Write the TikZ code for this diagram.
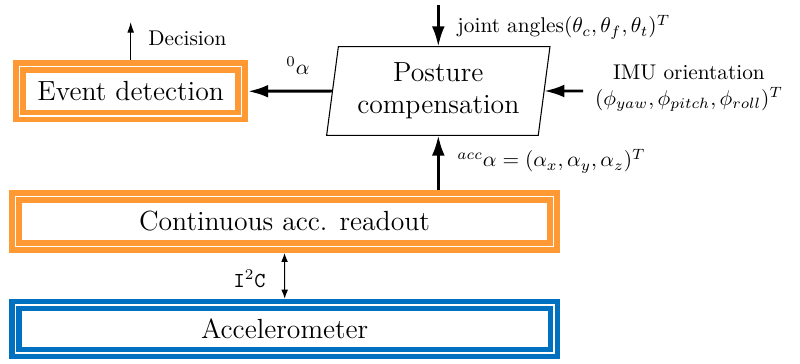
\documentclass[tikz,border=0pt]{standalone}
\usetikzlibrary{arrows.meta,shapes.geometric}
\definecolor{boxorange}{HTML}{FF9933}
\definecolor{boxblue}{HTML}{0070C0}
\begin{document}
\begin{tikzpicture}[x=0.4695pt,y=-0.4695pt,
  dbox/.style={draw=#1, line width=2.6pt, double=white, double distance=0.7pt,
    inner sep=0pt, outer sep=2.95pt, font=\fontsize{13}{15.5}\selectfont},
  para/.style={draw=black, line width=0.5pt, trapezium, trapezium stretches=true,
    trapezium left angle=80.4, trapezium right angle=99.6,
    minimum width=105.5pt, minimum height=41.6pt, inner sep=0pt, outer sep=0pt,
    align=center, font=\fontsize{13}{15}\selectfont},
  lbl/.style={inner sep=0pt, font=\fontsize{10}{12}\selectfont},
  bigarrow/.style={line width=1.4pt, -{Latex[length=9.5pt,width=6pt]}},
  smallarrow/.style={line width=0.5pt, -{Latex[length=5pt,width=3.2pt]}},
  bothsmall/.style={line width=0.5pt, {Latex[length=4.2pt,width=3.2pt]}-{Latex[length=4.2pt,width=3.2pt]}}]
\useasboundingbox (0,0) rectangle (800,363);

\node[dbox=boxorange, minimum width=104.2pt, minimum height=23.1pt] (ed) at (130.7,91.3) {Event detection};
\node[para] (pc) at (438.3,91) {Posture\\compensation};
\node[dbox=boxorange, minimum width=252.8pt, minimum height=23.7pt] (cr) at (284.5,221.5) {Continuous acc. readout};
\node[dbox=boxblue, minimum width=252.8pt, minimum height=22.6pt] (acc) at (284.7,329) {Accelerometer};

\coordinate (decend) at (130.7,22);
\coordinate (jstart) at (438.3,5);
\coordinate (imustart) at (583,91);

\node[lbl, anchor=west] (declbl) at (148,38) {Decision};
\node[lbl] (zlbl) at (298,66) {$^0\alpha$};
\node[lbl, anchor=west] (jlbl) at (457,27) {joint angles$(\theta_c,\theta_f,\theta_t)^T$};
\node[lbl, align=center] (imulbl) at (689,88) {IMU orientation\\$(\phi_{yaw},\phi_{pitch},\phi_{roll})^T$};
\node[lbl, anchor=west] (acclbl) at (457,161) {$^{acc}\alpha=(\alpha_x,\alpha_y,\alpha_z)^T$};
\node[lbl, anchor=east] (i2c) at (266,279) {\texttt{I$^2$C}};

\draw[bigarrow] (pc.west) -- (ed.east);
\draw[smallarrow] (ed.north) -- (decend);
\draw[bigarrow] (jstart) -- (pc.center |- pc.north);
\draw[bigarrow] (imustart) -- (pc.east);
\draw[bigarrow] (pc.center |- cr.north) -- (pc.center |- pc.south);
\draw[bothsmall] (cr.south) -- (acc.north);
\end{tikzpicture}
\end{document}
